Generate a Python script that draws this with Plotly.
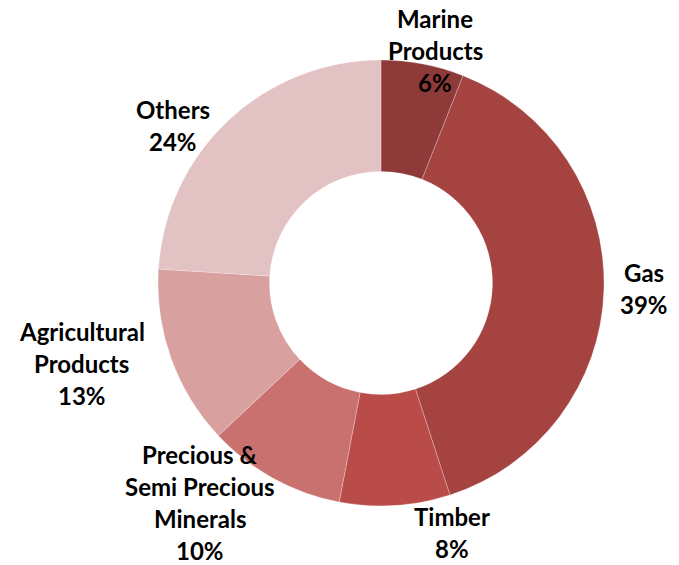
import math
import plotly.graph_objects as go

# Export mix by product group (share of total, %)
categories = ["Marine Products", "Gas", "Timber", "Precious & Semi Precious Minerals",
              "Agricultural Products", "Others"]
shares = [6, 39, 8, 10, 13, 24]
label_lines = [
    ["Marine", "Products"],
    ["Gas"],
    ["Timber"],
    ["Precious &", "Semi Precious", "Minerals"],
    ["Agricultural", "Products"],
    ["Others"],
]

colors = ["#8E3A39", "#A44340", "#B94C48", "#C8716E", "#D8A09F", "#E3C2C3"]

# label placement around the ring: radius factor and angular nudge (deg)
label_radius = [1.07, 1.18, 1.165, 1.275, 1.39, 1.17]
label_nudge = [2.3, -0.5, -12.2, 10.8, 4.8, -9.8]

W, H = 679, 565
cx, cy_top, R = 381, 283, 223
cy = H - cy_top

fig = go.Figure(go.Pie(
    labels=categories,
    values=shares,
    sort=False,
    direction="clockwise",
    rotation=0,
    hole=0.5,
    marker=dict(colors=colors, line=dict(color="rgba(255,255,255,0.35)", width=0.7)),
    textinfo="none",
    hoverinfo="label+percent",
    showlegend=False,
    domain=dict(x=[(cx - R) / W, (cx + R) / W], y=[(cy - R) / H, (cy + R) / H]),
))

total = sum(shares)
annotations = []
cum = 0
line_gap = 32
for i, v in enumerate(shares):
    mid = (cum + v / 2) / total * 360 + label_nudge[i]
    cum += v
    th = math.radians(mid)
    px = cx + label_radius[i] * R * math.sin(th)
    py = cy + label_radius[i] * R * math.cos(th)
    lines = label_lines[i] + [f"{round(v / total * 100)}%"]
    n = len(lines)
    for j, t in enumerate(lines):
        annotations.append(dict(
            x=px / W, y=py / H, xref="paper", yref="paper",
            text=f"<b>{t}</b>", showarrow=False,
            xanchor="center", yanchor="middle", borderpad=0,
            yshift=((n - 1) / 2 - j) * line_gap,
            font=dict(family="Lato, Carlito, Arial", size=24, color="#000000"),
        ))

fig.update_layout(
    width=W, height=H,
    margin=dict(l=0, r=0, t=0, b=0),
    paper_bgcolor="white",
    plot_bgcolor="white",
    annotations=annotations,
)

fig.write_html("out.html")
